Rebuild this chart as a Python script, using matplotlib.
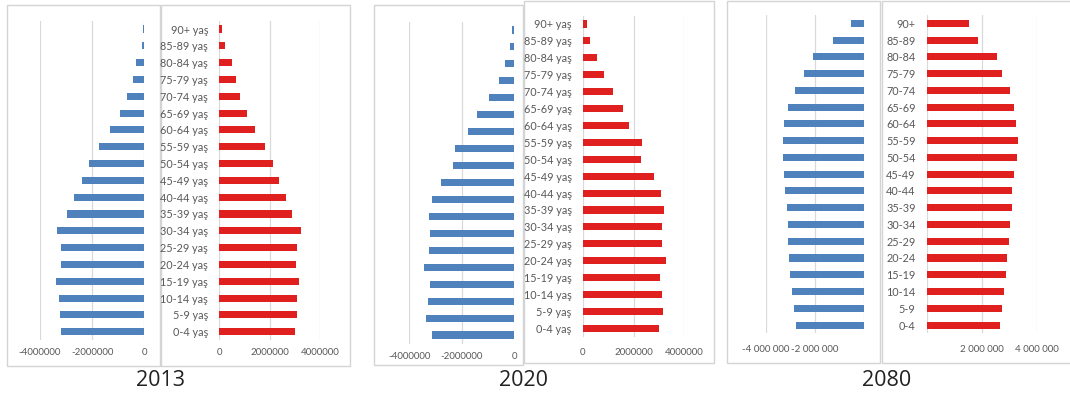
import matplotlib
matplotlib.use("Agg")
import matplotlib.pyplot as plt
from matplotlib.patches import Rectangle
from matplotlib.ticker import FixedLocator, FixedFormatter

# Age groups, from oldest (top) to youngest (bottom)
age_groups_yas = ["90+ yaş", "85-89 yaş", "80-84 yaş", "75-79 yaş", "70-74 yaş",
                  "65-69 yaş", "60-64 yaş", "55-59 yaş", "50-54 yaş", "45-49 yaş",
                  "40-44 yaş", "35-39 yaş", "30-34 yaş", "25-29 yaş", "20-24 yaş",
                  "15-19 yaş", "10-14 yaş", "5-9 yaş", "0-4 yaş"]
age_groups_plain = ["90+", "85-89", "80-84", "75-79", "70-74", "65-69", "60-64",
                    "55-59", "50-54", "45-49", "40-44", "35-39", "30-34", "25-29",
                    "20-24", "15-19", "10-14", "5-9", "0-4"]

# Population by age group (same order as above)
male_2013 = [40000, 100000, 320000, 450000, 670000, 930000, 1320000, 1750000, 2130000,
             2380000, 2690000, 2950000, 3330000, 3200000, 3190000, 3370000, 3280000,
             3240000, 3200000]
female_2013 = [90000, 240000, 500000, 650000, 830000, 1110000, 1420000, 1810000, 2120000,
               2360000, 2630000, 2900000, 3250000, 3100000, 3040000, 3150000, 3100000,
               3070000, 3020000]
male_2020 = [60000, 170000, 360000, 590000, 940000, 1400000, 1770000, 2260000, 2330000,
             2790000, 3150000, 3260000, 3200000, 3240000, 3420000, 3200000, 3290000,
             3350000, 3150000]
female_2020 = [180000, 300000, 550000, 820000, 1200000, 1570000, 1840000, 2340000, 2290000,
               2790000, 3100000, 3220000, 3140000, 3140000, 3280000, 3050000, 3140000,
               3180000, 3000000]
male_2080 = [530000, 1270000, 2080000, 2450000, 2830000, 3090000, 3240000, 3310000, 3310000,
             3250000, 3200000, 3130000, 3090000, 3080000, 3050000, 3000000, 2930000,
             2840000, 2770000]
female_2080 = [1540000, 1840000, 2540000, 2710000, 3000000, 3160000, 3230000, 3290000,
               3270000, 3170000, 3100000, 3070000, 3010000, 2990000, 2920000, 2860000,
               2780000, 2710000, 2650000]

years = ["2013", "2020", "2080"]

tick_vals_left = [-4000000, -2000000, 0]
tick_vals_right = [0, 2000000, 4000000]
tick_text_left_a = ["-4000000", "-2000000", "0"]
tick_text_right_a = ["0", "2000000", "4000000"]
tick_text_left_b = ["-4 000 000", "-2 000 000", ""]
tick_text_right_b = ["", "2 000 000", "4 000 000"]

W, H = 1070, 396
BLUE = "#4f81bd"
RED = "#e0201f"
GRID = "#d9d9d9"
TXT = "#595959"
FONT = ["Lato", "DejaVu Sans"]

fig = plt.figure(figsize=(W / 100, H / 100), dpi=100)
fig.patch.set_facecolor("white")


def frame(x0, y0, x1, y1):
    fig.patches.append(Rectangle((x0 / W, 1 - y1 / H), (x1 - x0) / W, (y1 - y0) / H,
                                 transform=fig.transFigure, facecolor="white",
                                 edgecolor="#d4d4d4", linewidth=1.0, zorder=-5))


def panel(x0, x1, y0, y1, values, side, ticks, ticklabels, cats=None, pad=6):
    ax = fig.add_axes([x0 / W, 1 - y1 / H, (x1 - x0) / W, (y1 - y0) / H])
    ax.set_zorder(2)
    ax.patch.set_alpha(0)
    n = len(values)
    ypos = list(range(n - 1, -1, -1))
    vals = [-v for v in values] if side == "left" else values
    ax.barh(ypos, vals, height=0.42, color=BLUE if side == "left" else RED, zorder=3)
    ax.set_ylim(-0.5, n - 0.5)
    if side == "left":
        ax.set_xlim(-4000000, 0)
    else:
        ax.set_xlim(0, 4000000)
    ax.xaxis.set_major_locator(FixedLocator(ticks))
    ax.xaxis.set_major_formatter(FixedFormatter(ticklabels))
    ax.grid(axis="x", color=GRID, linewidth=0.9, zorder=0)
    ax.set_axisbelow(True)
    ax.tick_params(axis="x", length=0, pad=pad, labelsize=7, labelcolor=TXT)
    for lab in ax.get_xticklabels():
        lab.set_fontfamily(FONT)
    for s in ax.spines.values():
        s.set_visible(False)
    if cats is not None:
        ax.set_yticks(ypos)
        ax.set_yticklabels(cats, fontsize=7.8, color=TXT, family=FONT)
        ax.tick_params(axis="y", length=0, pad=8)
    else:
        ax.set_yticks([])
    return ax


# 2013
frame(7, 5, 160, 366)
frame(161, 5, 350, 366)
panel(40, 144.3, 20.6, 340.1, male_2013, "left", tick_vals_left, tick_text_left_a, pad=6)
panel(219.3, 320, 20.6, 340.1, female_2013, "right", tick_vals_right, tick_text_right_a,
      cats=age_groups_yas, pad=6)

# 2020
frame(374, 5, 523, 365)
frame(524, 1, 714, 363)
panel(409.3, 514, 21.5, 343.5, male_2020, "left", tick_vals_left, tick_text_left_a, pad=6)
panel(582.7, 684.3, 15.5, 336.8, female_2020, "right", tick_vals_right, tick_text_right_a,
      cats=age_groups_yas, pad=8)

# 2080
frame(727, 1, 880, 363)
frame(882, 1, 1075, 363)
panel(765.7, 864.3, 15, 333.4, male_2080, "left", tick_vals_left, tick_text_left_b, pad=8)
panel(926.7, 1037.3, 15, 333.4, female_2080, "right", tick_vals_right, tick_text_right_b,
      cats=age_groups_plain, pad=8)

# Year captions
for x, yr in zip([160.8, 524, 886.7], years):
    fig.text(x / W, 1 - 380 / H, yr, ha="center", va="center", fontsize=15.5,
             color="#222222", family=["Open Sans", "DejaVu Sans"])

fig.savefig("out.png", dpi=100, facecolor="white")
